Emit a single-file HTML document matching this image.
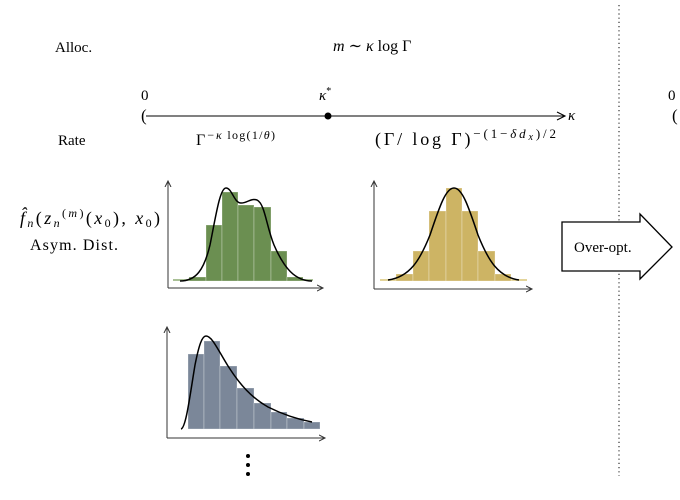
<!DOCTYPE html>
<html><head><style>
html,body{margin:0;padding:0;background:#fff;}
svg{display:block;font-family:"Liberation Serif",serif;}
</style></head><body>
<svg width="680" height="500" viewBox="0 0 680 500" xmlns="http://www.w3.org/2000/svg">
<defs>
<marker id="ah" markerWidth="8" markerHeight="8" refX="6" refY="4" orient="auto" markerUnits="userSpaceOnUse">
<path d="M0,1 L6,4 L0,7" fill="none" stroke="#333" stroke-width="1"/></marker>
</defs>
<text x="55" y="52" font-size="15">Alloc.</text>
<text x="333" y="51" font-size="16" font-style="italic">m <tspan font-style="normal">∼</tspan> κ <tspan font-style="normal">log Γ</tspan></text>
<text x="141" y="100" font-size="15">0</text>
<text x="141" y="121" font-size="17">(</text>
<line x1="146" y1="116" x2="565" y2="116" stroke="#000" stroke-width="1.1"/>
<path d="M557,112 L565,116 L557,120" fill="none" stroke="#000" stroke-width="1.1"/>
<text x="568" y="120" font-size="15" font-style="italic">κ</text>
<circle cx="328" cy="116" r="3.5" fill="#000"/>
<text x="319" y="100" font-size="15" font-style="italic">κ<tspan font-size="10" dy="-6" font-style="normal">*</tspan></text>
<text x="668" y="100" font-size="15">0</text>
<text x="672" y="121" font-size="17">(</text>
<text x="58" y="145" font-size="15">Rate</text>
<text x="196" y="145" font-size="16" textLength="79" lengthAdjust="spacing">Γ<tspan font-size="12" dy="-6" font-style="italic">−κ <tspan font-style="normal">log(1/</tspan>θ<tspan font-style="normal">)</tspan></tspan></text>
<text x="375" y="145" font-size="18" textLength="181" lengthAdjust="spacing">(Γ/ log Γ)<tspan font-size="13" dy="-7">−(1−<tspan font-style="italic">δd<tspan font-size="10" dy="2">x</tspan></tspan><tspan dy="-2">)/2</tspan></tspan></text>
<text x="20" y="224" font-size="18" textLength="140" lengthAdjust="spacing"><tspan font-style="italic">f̂<tspan font-size="12" dy="3">n</tspan></tspan><tspan dy="-3">(</tspan><tspan font-style="italic">z<tspan font-size="12" dy="3">n</tspan></tspan><tspan font-size="12" dy="-10">(<tspan font-style="italic">m</tspan>)</tspan><tspan dy="7">(</tspan><tspan font-style="italic">x</tspan><tspan font-size="12" dy="3">0</tspan><tspan dy="-3">), </tspan><tspan font-style="italic">x</tspan><tspan font-size="12" dy="3">0</tspan><tspan dy="-3">)</tspan></text>
<text x="30" y="250" font-size="16" textLength="88" lengthAdjust="spacing">Asym. Dist.</text>

<g stroke="#fff" stroke-opacity="0.35" stroke-width="0.8" fill="#6b8f51">
<rect x="173" y="279" width="140" height="2" fill="#a9c096" stroke="none"/>
<rect x="189" y="277" width="17" height="4"/>
<rect x="206" y="225" width="16" height="56"/>
<rect x="222" y="192" width="16" height="89"/>
<rect x="238" y="205" width="16" height="76"/>
<rect x="254" y="207" width="17" height="74"/>
<rect x="271" y="251" width="16" height="30"/>
<rect x="287" y="277" width="16" height="4"/>
</g>
<path d="M180,281 C196,281 204,270 210,245 C216,215 220,188 226,188 C232,188 234,203 241,203 C248,203 250,198 257,200 C265,204 266,225 274,245 C284,268 295,281 312,281" fill="none" stroke="#000" stroke-width="1.5"/>
<line x1="168" y1="288" x2="168" y2="181" stroke="#333" marker-end="url(#ah)"/>
<line x1="168" y1="288" x2="323" y2="288" stroke="#333" marker-end="url(#ah)"/>

<g stroke="#fff" stroke-opacity="0.35" stroke-width="0.8" fill="#cdb464">
<rect x="380" y="279" width="147" height="2" fill="#e3d49a" stroke="none"/>
<rect x="396" y="274" width="17" height="7"/>
<rect x="413" y="251" width="16" height="30"/>
<rect x="429" y="211" width="17" height="70"/>
<rect x="446" y="188" width="16" height="93"/>
<rect x="462" y="211" width="16" height="70"/>
<rect x="478" y="251" width="17" height="30"/>
<rect x="495" y="274" width="16" height="7"/>
</g>
<path d="M388,280 C410,277 420,260 430,235 C440,205 446,188 454,188 C462,188 468,205 478,235 C488,260 498,277 519,280" fill="none" stroke="#000" stroke-width="1.5"/>
<line x1="374" y1="289" x2="374" y2="181" stroke="#333" marker-end="url(#ah)"/>
<line x1="374" y1="289" x2="532" y2="289" stroke="#333" marker-end="url(#ah)"/>

<line x1="619" y1="5" x2="619" y2="476" stroke="#333" stroke-width="1.2" stroke-dasharray="1.2,3"/>
<path d="M562,222 L640,222 L640,214 L672,247 L640,279 L640,271 L562,271 Z" fill="#fff" stroke="#000" stroke-width="1.3"/>
<text x="574" y="252" font-size="15">Over-opt.</text>

<g stroke="#fff" stroke-opacity="0.35" stroke-width="0.8" fill="#7b8799">
<rect x="188" y="354" width="16" height="75"/>
<rect x="204" y="341" width="16" height="88"/>
<rect x="220" y="366" width="17" height="63"/>
<rect x="237" y="388" width="17" height="41"/>
<rect x="254" y="403" width="17" height="26"/>
<rect x="271" y="412" width="16" height="17"/>
<rect x="287" y="418" width="17" height="11"/>
<rect x="304" y="422" width="16" height="7"/>
</g>
<path d="M181,429 C186,428 190,395 195,365 C199,345 202,336 206,336 C212,336 218,350 228,366 C240,385 252,398 268,407 C282,414 296,419 312,422" fill="none" stroke="#000" stroke-width="1.5"/>
<line x1="167" y1="438" x2="167" y2="327" stroke="#333" marker-end="url(#ah)"/>
<line x1="167" y1="438" x2="325" y2="438" stroke="#333" marker-end="url(#ah)"/>
<circle cx="248" cy="456" r="2" fill="#000"/>
<circle cx="248" cy="465" r="2" fill="#000"/>
<circle cx="248" cy="474" r="2" fill="#000"/>
</svg>
</body></html>
